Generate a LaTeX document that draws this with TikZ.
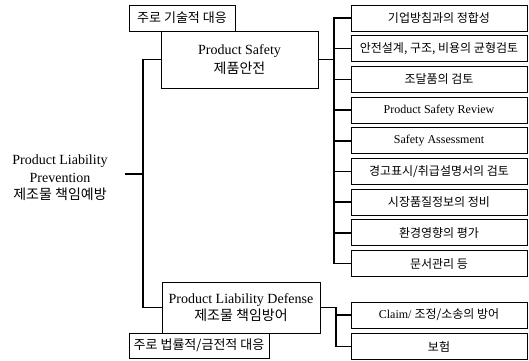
\documentclass[tikz,border=0pt]{standalone}
\usepackage{fontspec}
\setmainfont{Liberation Serif}
\newfontfamily\kr{Noto Sans CJK KR}
\begin{document}
\begin{tikzpicture}[x=1pt,y=-1pt,
  box/.style={draw, line width=0.9pt, inner sep=0pt, align=center},
  item/.style={box, minimum width=176pt, minimum height=26pt, font=\fontsize{12}{14}\selectfont\kr},
  itemen/.style={box, minimum width=176pt, minimum height=26pt, font=\fontsize{12}{14}\selectfont},
  head/.style={box, font=\fontsize{14}{17}\selectfont},
  note/.style={box, font=\fontsize{13}{15}\selectfont\kr},
  conn/.style={line width=1.5pt}]
\useasboundingbox (0,0) rectangle (529,360);
% root label
\node[align=center, font=\fontsize{14}{17.5}\selectfont] (root) at (60,178)
  {Product Liability\\Prevention\\{\kr 제조물 책임예방}};
% headings
\node[head, minimum width=157pt, minimum height=57pt] (ps) at (239.5,59.5)
  {Product Safety\\[2pt]{\kr 제품안전}};
\node[head, minimum width=158pt, minimum height=51pt] (pld) at (241,307.5)
  {Product Liability Defense\\{\kr 제조물 책임방어}};
\node[note, minimum width=106pt, minimum height=26pt] (tech) at (182,18) {주로 기술적 대응};
\node[note, minimum width=140pt, minimum height=25pt] (law) at (199,345.5) {주로 법률적/금전적 대응};
% items
\node[item]   (i1) at (439,18)    {기업방침과의 정합성};
\node[item]   (i2) at (439,48.7)  {안전설계, 구조, 비용의 균형검토};
\node[item]   (i3) at (439,79.4)  {조달품의 검토};
\node[itemen] (i4) at (439,110.1) {Product Safety Review};
\node[itemen] (i5) at (439,140.8) {Safety Assessment};
\node[item]   (i6) at (439,171.5) {경고표시/취급설명서의 검토};
\node[item]   (i7) at (439,202.2) {시장품질정보의 정비};
\node[item]   (i8) at (439,232.9) {환경영향의 평가};
\node[item]   (i9) at (439,263.6) {문서관리 등};
\node[itemen] (c1) at (439,315)   {Claim/ {\kr 조정/소송의 방어}};
\node[item]   (c2) at (439,346.5) {보험};
% connectors
\coordinate (r) at (125,174);
\coordinate (j) at (143,174);
\coordinate (b) at (334,0);
\coordinate (d) at (336,0);
\draw[conn] (r) -- (j);
\draw[conn] (ps.west) -| (j) |- (pld.west);
\draw[conn] (ps.east) -- (ps.east -| b);
\draw[conn] (i1.west) -| (b |- i9.west) -- (i9.west);
\foreach \n in {i2,i3,i4,i5,i6,i7,i8}{\draw[conn] (b |- \n.west) -- (\n.west);}
\draw[conn] (pld.east) -| (d |- c2.west) -- (c2.west);
\draw[conn] (d |- c1.west) -- (c1.west);
\end{tikzpicture}
\end{document}
